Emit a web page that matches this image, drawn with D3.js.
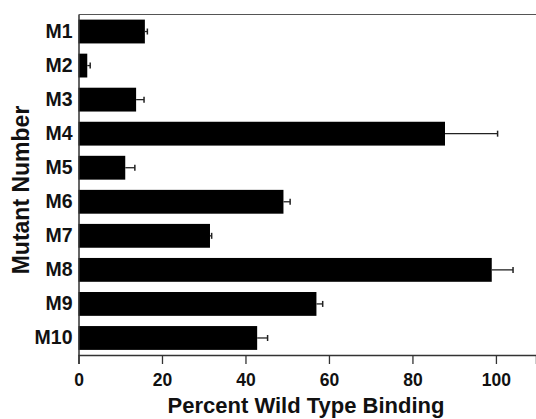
<!DOCTYPE html>
<html>
<head>
<meta charset="utf-8">
<script src="https://cdn.jsdelivr.net/npm/d3@7"></script>
<style>
  body { margin: 0; background: #fff; }
  svg { display: block; }
  text { font-family: "Liberation Sans", Arial, Helvetica, sans-serif; }
</style>
</head>
<body>
<script>
// Data
var mutants = ["M1", "M2", "M3", "M4", "M5", "M6", "M7", "M8", "M9", "M10"];
var binding = [15.9, 2.1, 13.8, 87.8, 11.2, 49.1, 31.5, 99.0, 57.0, 42.8];
var errors = [0.6, 0.7, 1.9, 12.6, 2.3, 1.6, 0.4, 5.1, 1.5, 2.5];
var xTicks = [0, 20, 40, 60, 80, 100];

var width = 536, height = 419;
var margin = { top: 14.5, right: 0, bottom: 64, left: 78.5 };

var svg = d3.select("body").append("svg")
  .attr("width", width)
  .attr("height", height);

var x = d3.scaleLinear()
  .domain([0, 109.6])
  .range([margin.left, width - margin.right]);

var y = d3.scaleBand()
  .domain(mutants)
  .range([margin.top, height - margin.bottom])
  .paddingInner(0.3)
  .paddingOuter(0.15);

var rows = mutants.map(function (m, i) {
  return { name: m, value: binding[i], err: errors[i] };
});

// bars
svg.append("g").selectAll("rect")
  .data(rows)
  .enter().append("rect")
  .attr("x", x(0))
  .attr("y", function (d) { return y(d.name); })
  .attr("width", function (d) { return x(d.value) - x(0); })
  .attr("height", y.bandwidth())
  .attr("fill", "#000");

// error bars
var eb = svg.append("g").selectAll("g")
  .data(rows)
  .enter().append("g");
eb.append("line")
  .attr("x1", function (d) { return x(d.value); })
  .attr("x2", function (d) { return x(d.value + d.err); })
  .attr("y1", function (d) { return y(d.name) + y.bandwidth() / 2; })
  .attr("y2", function (d) { return y(d.name) + y.bandwidth() / 2; })
  .attr("stroke", "#222")
  .attr("stroke-width", 1.3);
eb.append("line")
  .attr("x1", function (d) { return x(d.value + d.err); })
  .attr("x2", function (d) { return x(d.value + d.err); })
  .attr("y1", function (d) { return y(d.name) + y.bandwidth() / 2 - 3; })
  .attr("y2", function (d) { return y(d.name) + y.bandwidth() / 2 + 3; })
  .attr("stroke", "#222")
  .attr("stroke-width", 1.5);

// top frame line
svg.append("line")
  .attr("x1", margin.left).attr("x2", width)
  .attr("y1", margin.top).attr("y2", margin.top)
  .attr("stroke", "#555").attr("stroke-width", 1.2);

// x axis
var xAxis = svg.append("g")
  .attr("transform", "translate(0," + (height - margin.bottom) + ")")
  .call(d3.axisBottom(x).tickValues(xTicks).tickSizeOuter(0).tickSize(9).tickPadding(10));
xAxis.select(".domain").attr("stroke", "#333").attr("stroke-width", 1.5);
xAxis.selectAll(".tick line").attr("stroke", "#333").attr("stroke-width", 1.3);
xAxis.selectAll(".tick text")
  .attr("font-size", 17.5).attr("font-weight", "bold").attr("fill", "#111")
  .style("font-family", "Liberation Sans, Arial, sans-serif");

// y axis
var yAxis = svg.append("g")
  .attr("transform", "translate(" + margin.left + ",0)")
  .call(d3.axisLeft(y).tickSize(0).tickPadding(6).tickSizeOuter(0));
yAxis.select(".domain").attr("stroke", "#333").attr("stroke-width", 1.5);
yAxis.selectAll(".tick text")
  .attr("font-size", 19.5).attr("font-weight", "bold").attr("fill", "#111")
  .style("font-family", "Liberation Sans, Arial, sans-serif");

// axis titles
svg.append("text")
  .attr("x", 306)
  .attr("y", 413)
  .attr("text-anchor", "middle")
  .attr("font-size", 22).attr("font-weight", "bold").attr("fill", "#111")
  .text("Percent Wild Type Binding");

svg.append("text")
  .attr("transform", "translate(28.5,190) rotate(-90)")
  .attr("text-anchor", "middle")
  .attr("font-size", 23).attr("font-weight", "bold").attr("fill", "#111")
  .text("Mutant Number");
</script>
</body>
</html>
